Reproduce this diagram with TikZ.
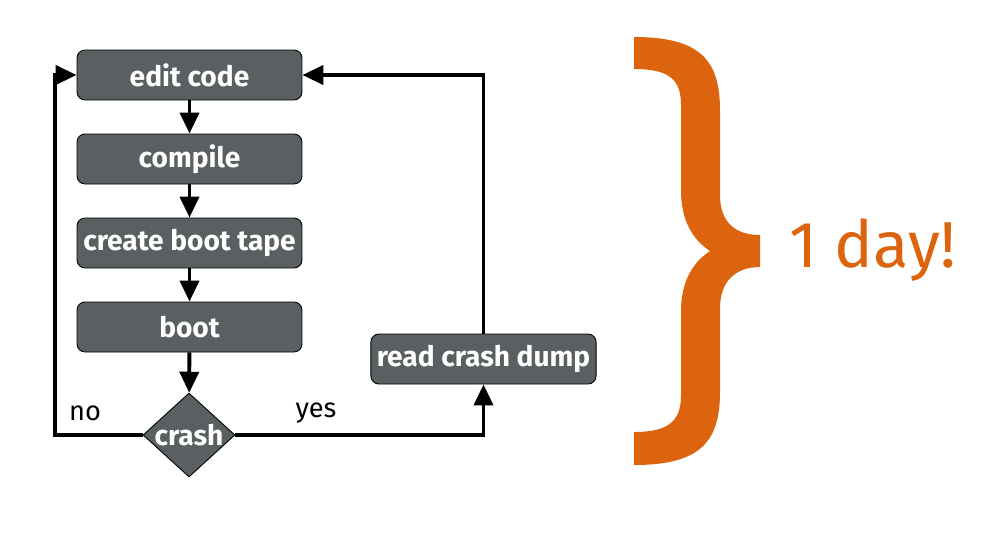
\documentclass[tikz,border=0pt]{standalone}
\usepackage{fontspec}
\setmainfont{Fira Sans}
\usetikzlibrary{shapes.geometric,arrows.meta}
\definecolor{boxgray}{RGB}{90,96,98}
\definecolor{dayorange}{RGB}{221,100,14}
\begin{document}
\begin{tikzpicture}[x=0.02cm, y=-0.02cm,
     text=white,
     stepbox/.style={draw=black, line width=0.5pt, fill=boxgray, rounded corners=0.16cm,
        minimum width=4.5cm, minimum height=1cm, font=\fontsize{16}{18}\selectfont\bfseries},
     decision/.style={diamond, draw=black, line width=0.5pt, fill=boxgray, inner sep=0pt,
        minimum width=1.84cm, minimum height=1.68cm, font=\fontsize{16}{18}\selectfont\bfseries},
     flow/.style={line width=2.2pt, -{Triangle[length=0.42cm, width=0.38cm]}},
     answer/.style={text=black, font=\fontsize{15.5}{18}\selectfont}]
\useasboundingbox (0,0) rectangle (992,539);
\node[stepbox] (edit) at (189.5,75) {edit code};
\node[stepbox] (compile) at (189.5,159) {compile};
\node[stepbox] (tape) at (189.5,243) {create boot tape};
\node[stepbox] (boot) at (189.5,327) {boot};
\node[decision] (crash) at (189,435) {\makebox[0pt]{crash}};
\node[stepbox] (dump) at (483.5,359) {read crash dump};
\foreach \from/\to in {edit/compile, compile/tape, tape/boot, boot/crash}{
    \draw[flow] (\from) -- (\to);
}
\coordinate (noturn) at (55,435);
\draw[flow] (crash.west) -- (noturn) |- (edit.west);
\draw[flow] (crash.east) -| (dump.south);
\draw[flow] (dump.north) |- (edit.east);
\node[answer] (no) at (85,413) {no};
\node[answer] (yes) at (316,413) {yes};
% the brace
\fill[dayorange] (634,37) .. controls (700,37) and (720,60) .. (720,110) -- (720,195)
    .. controls (720,222) and (735,235) .. (760,235) -- (760,267)
    .. controls (735,267) and (720,282) .. (720,308) -- (720,392)
    .. controls (720,442) and (700,465) .. (634,465) -- (634,432)
    .. controls (670,432) and (681,420) .. (681,395) -- (681,312)
    .. controls (681,282) and (692,263) .. (710,251)
    .. controls (692,239) and (681,220) .. (681,190) -- (681,105)
    .. controls (681,80) and (670,69) .. (634,69) -- cycle;
\node[text=dayorange, font=\fontsize{37}{40}\selectfont] (day) at (873,250) {1 day!};
\end{tikzpicture}
\end{document}
